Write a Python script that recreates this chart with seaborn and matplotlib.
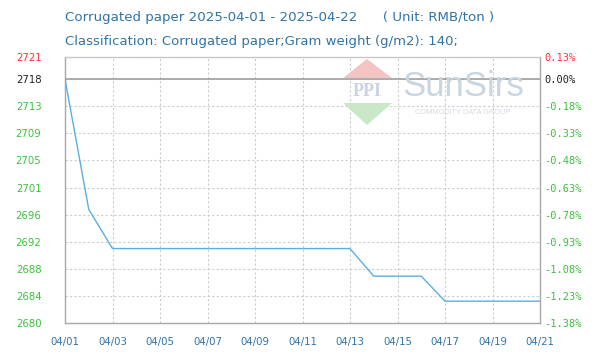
import matplotlib
matplotlib.use("Agg")
import matplotlib.pyplot as plt
import seaborn as sns
import pandas as pd
import numpy as np
from matplotlib.patches import Polygon

# ---- data ----
dates = ["04/01", "04/02", "04/03", "04/04", "04/05", "04/06", "04/07", "04/08",
         "04/09", "04/10", "04/11", "04/12", "04/13", "04/14", "04/15", "04/16",
         "04/17", "04/18", "04/19", "04/20", "04/21"]
prices = [2718, 2697.7, 2691.6, 2691.6, 2691.6, 2691.6, 2691.6, 2691.6,
          2691.6, 2691.6, 2691.6, 2691.6, 2691.6, 2687.3, 2687.3, 2687.3,
          2683.4, 2683.4, 2683.4, 2683.4, 2683.4]
x_tick_labels = ["04/01", "04/03", "04/05", "04/07", "04/09", "04/11",
                 "04/13", "04/15", "04/17", "04/19", "04/21"]
left_tick_labels = ["2680", "2684", "2688", "2692", "2696", "2701",
                    "2705", "2709", "2713", "2718", "2721"]
right_tick_labels = ["-1.38%", "-1.23%", "-1.08%", "-0.93%", "-0.78%", "-0.63%",
                     "-0.48%", "-0.33%", "-0.18%", "0.00%", "0.13%"]
title1 = "Corrugated paper 2025-04-01 - 2025-04-22      ( Unit: RMB/ton )"
title2 = "Classification: Corrugated paper;Gram weight (g/m2): 140;"

base_value = 2718
y_min = 2680
y_max = 2721.45

df = pd.DataFrame({"idx": np.arange(len(dates)), "date": dates, "price": prices})

sns.set_style("white")
plt.rcParams['font.family'] = ['DejaVu Sans']

W, H = 597, 363
fig = plt.figure(figsize=(W / 100, H / 100), dpi=100)
ax = fig.add_axes([65 / W, 1 - 323 / H, (540 - 65) / W, (323 - 57) / H])

BLUE_TXT = "#2f74a6"
GREEN = "#3cc13c"
GRID = "#cccccc"
BORDER = "#a8a8a8"

# ---- watermark (decoration) ----
def fx(px):
    return px / W

def fy(py):
    return 1 - py / H

fig.patches.append(Polygon([(fx(343), fy(78)), (fx(392), fy(78)), (fx(367), fy(59))],
                           closed=True, transform=fig.transFigure,
                           facecolor="#f4c4c4", edgecolor="none", zorder=0.5))
fig.patches.append(Polygon([(fx(343), fy(103)), (fx(392), fy(103)), (fx(367), fy(125))],
                           closed=True, transform=fig.transFigure,
                           facecolor="#c8e8c8", edgecolor="none", zorder=0.5))
fig.text(fx(367), fy(91), "PPI", fontsize=13, fontweight="bold", color="#c8d2e4",
         ha="center", va="center", family="Liberation Serif", zorder=0.6)
fig.text(fx(463), fy(86), "SunSirs", fontsize=25, color="#c9d5e1",
         ha="center", va="center", family="Liberation Sans", zorder=0.6)
fig.text(fx(463), fy(113), "COMMODITY DATA GROUP", fontsize=5.3, color="#d2dae2",
         ha="center", va="center", family="Liberation Sans", zorder=0.6)

ax.set_facecolor("none")

# ---- line ----
sns.lineplot(data=df, x="idx", y="price", ax=ax, color="#5aaee3", linewidth=1.0, zorder=3)

# ---- axes ----
ax.set_xlim(0, len(dates) - 1)
ax.set_ylim(y_min, y_max)

xt = [dates.index(d) for d in x_tick_labels]
ax.set_xticks(xt)
ax.set_xticklabels(x_tick_labels, color=BLUE_TXT, fontsize=7.3)

step = (base_value - y_min) / 9
yt = [y_min + i * step for i in range(10)] + [y_max]
ax.set_yticks(yt)
ax.set_yticklabels(left_tick_labels, fontsize=7.3)
for i, lab in enumerate(ax.get_yticklabels()):
    if i == 10:
        lab.set_color("#ff3333")
    elif i == 9:
        lab.set_color("#222222")
    else:
        lab.set_color(GREEN)

ax.tick_params(axis="both", length=0)
ax.tick_params(axis="y", pad=17)
ax.tick_params(axis="x", pad=10)

ax.grid(True, color=GRID, linestyle=(0, (2, 2)), linewidth=0.8)
ax.axhline(base_value, color="#a0a0a0", linewidth=1.2, zorder=2)

for side in ["left", "bottom", "right", "top"]:
    ax.spines[side].set_visible(True)
    ax.spines[side].set_color(BORDER)
    ax.spines[side].set_linewidth(1.0)
ax.spines["top"].set_color("#c8c8c8")
ax.set_xlabel("")
ax.set_ylabel("")

# right axis labels
ax2 = ax.twinx()
ax2.set_ylim(y_min, y_max)
ax2.set_yticks(yt)
ax2.set_yticklabels(right_tick_labels, fontsize=7.5, family="DejaVu Sans Mono")
for i, lab in enumerate(ax2.get_yticklabels()):
    if i == 10:
        lab.set_color("#ff3333")
    elif i == 9:
        lab.set_color("#222222")
    else:
        lab.set_color(GREEN)
ax2.tick_params(axis="y", length=0, pad=3)
for side in ["left", "bottom", "right", "top"]:
    ax2.spines[side].set_visible(False)

# ---- titles ----
fig.text(65 / W, 1 - 18 / H, title1, fontsize=9.6, color=BLUE_TXT, ha="left", va="center")
fig.text(65 / W, 1 - 42 / H, title2, fontsize=9.5, color=BLUE_TXT, ha="left", va="center")

fig.savefig("out.png", dpi=100, facecolor="white")
